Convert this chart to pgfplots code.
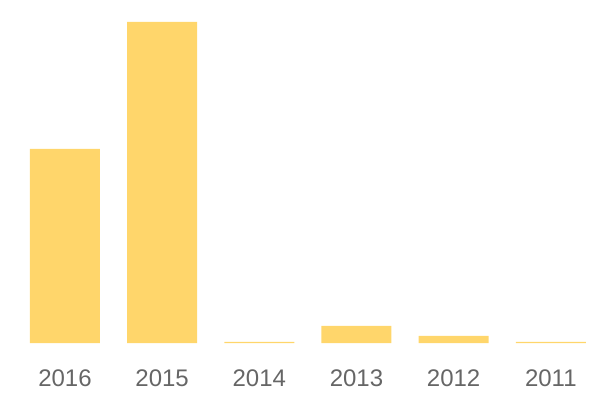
\documentclass[border=0pt]{standalone}
\usepackage{pgfplots}
\pgfplotsset{compat=1.18}
\usepackage{fontspec}
\setmainfont{Liberation Sans}
\definecolor{baryellow}{HTML}{FFD66B}
\definecolor{labelgray}{HTML}{666666}
\begin{document}
\begin{tikzpicture}
\begin{axis}[
  at={(16.4bp,57bp)}, anchor=south west,
  scale only axis,
  width=583bp, height=321bp,
  xmin=-0.5, xmax=5.5, ymin=0, ymax=321,
  clip=false,
  axis line style={draw=none},
  ytick=\empty,
  xtick={0,1,2,3,4,5},
  xticklabels={2016,2015,2014,2013,2012,2011},
  major tick length=0pt,
  xticklabel style={anchor=north, inner sep=0pt, yshift=-27bp, text=labelgray, font=\fontsize{24bp}{28bp}\selectfont},
  ybar, bar width=70bp,
]
\addplot[fill=baryellow, draw=none] coordinates {(0,194) (1,321) (2,1.2) (3,17) (4,7) (5,1.2)};
\end{axis}
\pgfresetboundingbox
\path (0,0) rectangle (600bp,400bp);
\end{tikzpicture}
\end{document}
